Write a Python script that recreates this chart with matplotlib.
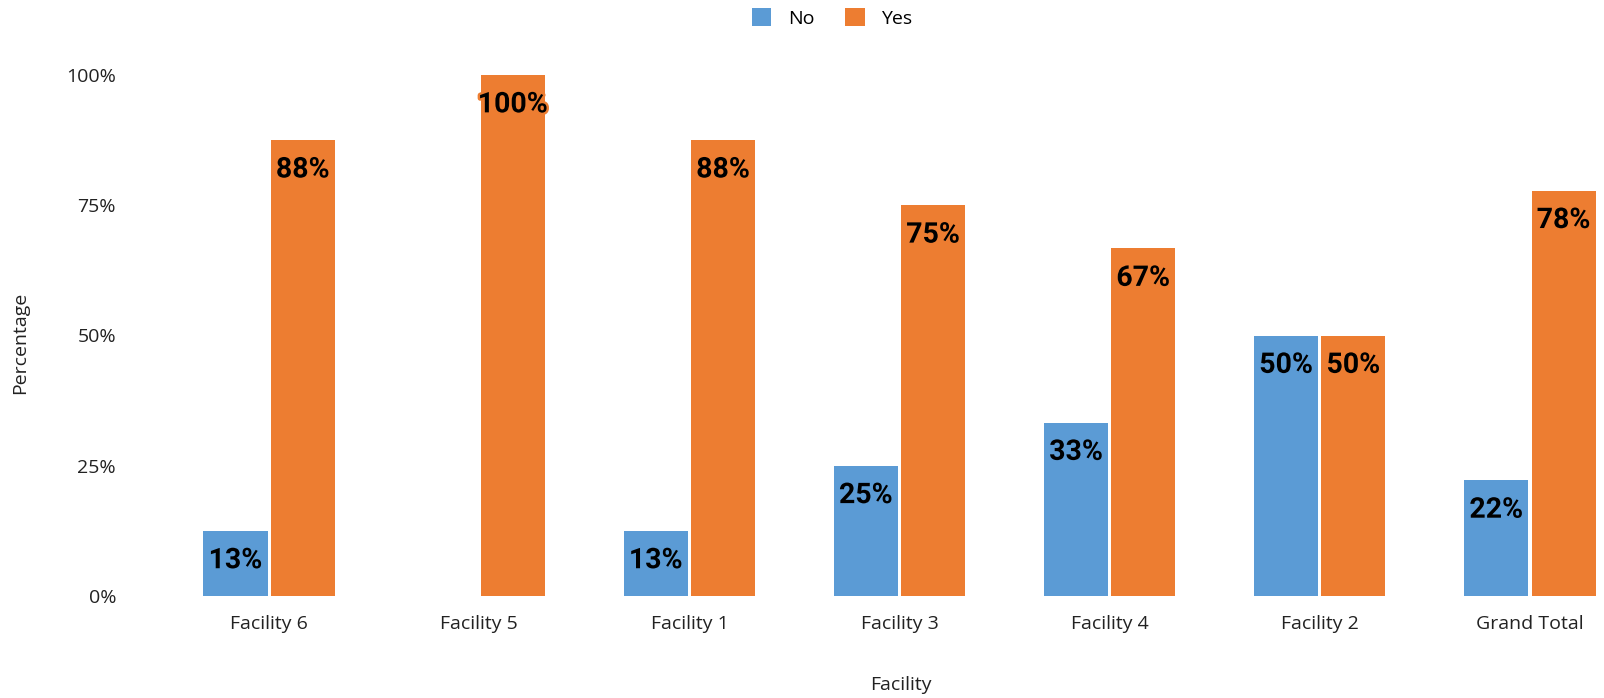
import math
import matplotlib
matplotlib.use("Agg")
import matplotlib.pyplot as plt
import matplotlib.patheffects as pe
from matplotlib.patches import Patch
import numpy as np

categories = ["Facility 6", "Facility 5", "Facility 1", "Facility 3", "Facility 4", "Facility 2", "Grand Total"]
no_values = [12.5, 0.0, 12.5, 25.0, 33.3, 50.0, 22.2]
yes_values = [87.5, 100.0, 87.5, 75.0, 66.7, 50.0, 77.8]
yticks = [0, 25, 50, 75, 100]
ytick_labels = ["0%", "25%", "50%", "75%", "100%"]

BLUE = "#5B9BD5"
ORANGE = "#ED7D31"

W, H = 1604, 698
fig = plt.figure(figsize=(W / 100, H / 100), dpi=100)
left_px, right_px = 130, 1600
bottom_px, top_px = 596, 75
ax = fig.add_axes([left_px / W, (H - bottom_px) / H, (right_px - left_px) / W, (bottom_px - top_px) / H])

x = np.arange(len(categories))
bw = 0.305
off = 0.16
spacing_px = 210.0
ax.set_xlim(-(269 - left_px) / spacing_px, 6 + (right_px - 1530) / spacing_px)
ax.set_ylim(0, 100)

tick_font = "Open Sans"
bars_no = ax.bar(x - off, no_values, width=bw, color=BLUE, label="No")
bars_yes = ax.bar(x + off, yes_values, width=bw, color=ORANGE, label="Yes")

def fmt(v):
    return f"{math.floor(v + 0.5)}%"

for bars, vals, col in ((bars_no, no_values, BLUE), (bars_yes, yes_values, ORANGE)):
    for b, v in zip(bars, vals):
        if v <= 0:
            continue
        ax.annotate(fmt(v), (b.get_x() + b.get_width() / 2, v), xytext=(0, -21.5),
                    textcoords="offset points", ha="center", va="center",
                    fontsize=20.5, fontweight="bold", family="Roboto", color="black",
                    path_effects=[pe.withStroke(linewidth=3.5, foreground=col)])

for s in ax.spines.values():
    s.set_visible(False)
ax.tick_params(axis="both", length=0)
ax.set_yticks(yticks)
ax.set_yticklabels(ytick_labels, fontsize=14, family=tick_font, color="#222222")
ax.tick_params(axis="y", pad=10)
ax.set_xticks(x)
ax.set_xticklabels(categories, fontsize=14, family=tick_font, color="#222222")
ax.tick_params(axis="x", pad=14)

fig.text(901 / W, 1 - 685 / H, "Facility", ha="center", va="center",
         fontsize=14, family=tick_font, color="#222222")
fig.text(20 / W, 1 - 343 / H, "Percentage", ha="center", va="center", rotation=90,
         fontsize=14, family=tick_font, color="#222222")

handles = [Patch(facecolor=BLUE, label="No"), Patch(facecolor=ORANGE, label="Yes")]
fig.legend(handles=handles, loc="center", bbox_to_anchor=(832 / W, 1 - 18 / H), ncol=2, frameon=False,
           prop={"family": tick_font, "size": 14}, handlelength=1.0, handleheight=1.0,
           columnspacing=1.6, handletextpad=0.85)

fig.savefig("out.png", dpi=100)
